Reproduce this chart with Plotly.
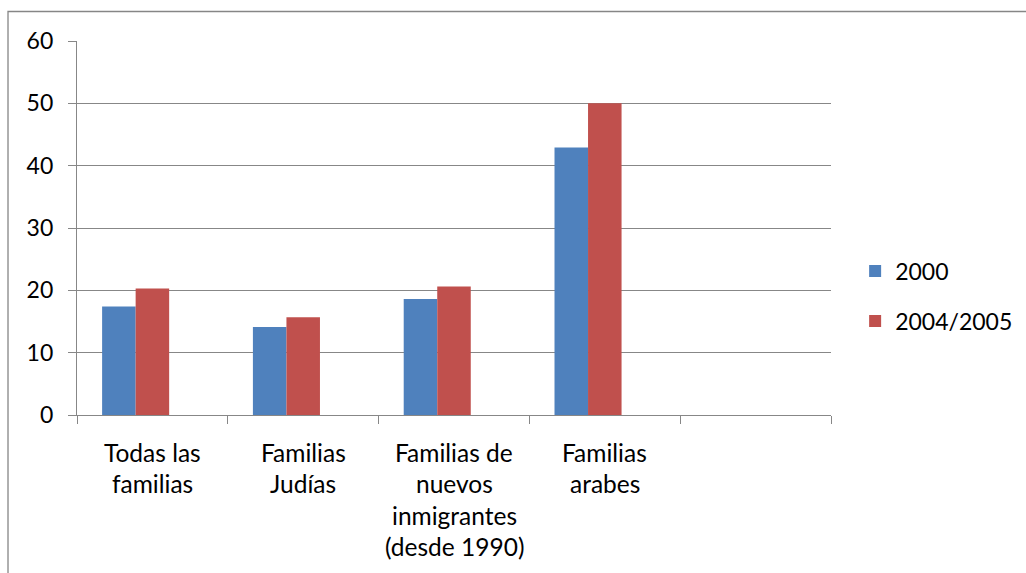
import plotly.graph_objects as go

categories = ["Todas las familias", "Familias Judías",
              "Familias de nuevos inmigrantes (desde 1990)", "Familias arabes", " "]
label_lines = [["Todas las", "familias"],
               ["Familias", "Judías"],
               ["Familias de", "nuevos", "inmigrantes", "(desde 1990)"],
               ["Familias", "arabes"],
               []]
series_names = ["2000", "2004/2005"]
values_2000 = [17.4, 14.1, 18.6, 42.9, None]
values_2004 = [20.3, 15.7, 20.6, 50.0, None]
y_ticks = [0, 10, 20, 30, 40, 50, 60]

FONT = "Lato"
GRID = "#878787"

fig = go.Figure()
fig.add_trace(go.Bar(x=categories, y=values_2000, name=series_names[0],
                     marker=dict(color="#4F81BD", line=dict(width=0)),
                     legendgroup="a"))
fig.add_trace(go.Bar(x=categories, y=values_2004, name=series_names[1],
                     marker=dict(color="#C0504D", line=dict(width=0)),
                     legendgroup="b"))
# empty third series (keeps the Excel-style slot)
fig.add_trace(go.Bar(x=categories, y=[None] * len(categories), showlegend=False,
                     marker=dict(color="rgba(0,0,0,0)"), hoverinfo="skip"))

for cat, lines in zip(categories, label_lines):
    for i, line in enumerate(lines):
        fig.add_annotation(x=cat, y=0, xref="x", yref="y", text=line,
                           showarrow=False, yanchor="middle", xanchor="center",
                           yshift=-37 - 31.5 * i,
                           font=dict(family=FONT, size=24.5, color="black"))

# chart-area border
fig.add_shape(type="rect", xref="paper", yref="paper",
              x0=-0.0915, x1=1.5, y0=-1.0, y1=1.0789,
              line=dict(color="#868686", width=1.3), fillcolor="rgba(0,0,0,0)",
              layer="below")

fig.update_layout(
    width=1026, height=573,
    margin=dict(l=77, r=195, t=41, b=158, autoexpand=False),
    paper_bgcolor="white", plot_bgcolor="white",
    barmode="group", bargap=0.333, bargroupgap=0,
    font=dict(family=FONT, size=23, color="black"),
    showlegend=True,
    legend=dict(x=1.032, y=0.318, xanchor="left", yanchor="middle",
                font=dict(family=FONT, size=23, color="black"),
                traceorder="grouped", tracegroupgap=17,
                bgcolor="rgba(0,0,0,0)"),
    xaxis=dict(type="category", categoryorder="array", categoryarray=categories,
               range=[-0.5, len(categories) - 0.5],
               showticklabels=False, showgrid=False,
               showline=True, linecolor=GRID, linewidth=1.3,
               ticks="outside", tickson="boundaries", ticklen=8,
               tickcolor=GRID, tickwidth=1.3),
    yaxis=dict(range=[0, 60], tickvals=y_ticks, showgrid=True,
               gridcolor=GRID, gridwidth=1.3,
               showline=True, linecolor=GRID, linewidth=1.3,
               ticks="outside", ticklen=8, tickcolor=GRID, tickwidth=1.3,
               zeroline=False, ticklabelstandoff=10,
               tickfont=dict(family=FONT, size=23, color="black")),
)

fig.write_html("out.html")
